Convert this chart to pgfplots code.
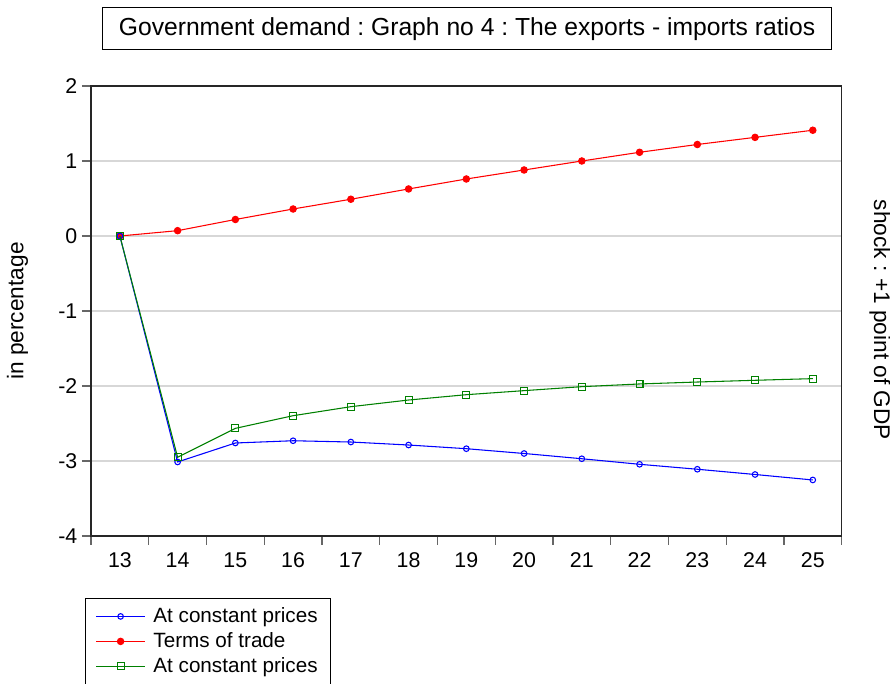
\documentclass[border=0pt]{standalone}
\usepackage{pgfplots}
\pgfplotsset{compat=1.18}
\usepackage{fontspec}
\setmainfont{Liberation Sans}
\frenchspacing
\definecolor{cblue}{RGB}{0,0,255}
\definecolor{cred}{RGB}{255,0,0}
\definecolor{cgreen}{RGB}{0,128,0}
\definecolor{cgrid}{RGB}{215,215,215}
\begin{document}
\begin{tikzpicture}
\path[use as bounding box] (-68.25pt,-111pt) rectangle (599.25pt,402pt);
\begin{axis}[
  at={(0,0)}, anchor=south west,
  scale only axis, width=563pt, height=337.5pt,
  clip mode=individual,
  xmin=12.5, xmax=25.5, ymin=-4, ymax=2,
  xtick={12.5,13.5,14.5,15.5,16.5,17.5,18.5,19.5,20.5,21.5,22.5,23.5,24.5,25.5},
  x tick label as interval,
  xticklabels={13,14,15,16,17,18,19,20,21,22,23,24,25},
  ytick={-4,-3,-2,-1,0,1,2},
  yticklabels={-4,-3,-2,-1,0,1,2},
  tick align=outside, tick pos=left,
  major tick length=6.75pt,
  ymajorgrids, grid style={cgrid, line width=0.9pt},
  axis line style={line width=1.1pt, black!85},
  tick style={line width=1pt, black!60},
  tick label style={font=\fontsize{16}{19}\selectfont},
  xticklabel style={yshift=-2.5pt},
  ylabel={in percentage},
  ylabel style={at={(axis description cs:-0.098,0.5)}, anchor=center, font=\fontsize{17}{20}\selectfont},
  every axis title shift=0pt,
  title={Government demand : Graph no 4 : The exports - imports ratios},
  title style={draw, line width=0.75pt, font=\fontsize{18.5}{22}\selectfont, minimum width=547pt, minimum height=31.5pt, at={(axis description cs:0.501,1.1267)}, anchor=center},
  legend style={at={(axis description cs:-0.0076,-0.138)}, anchor=north west, draw=black, line width=0.75pt, font=\fontsize{15.5}{19}\selectfont, cells={anchor=west}, inner xsep=7.5pt, inner ysep=5pt, row sep=2pt, /tikz/every odd column/.append style={column sep=4pt}},
  legend image code/.code={\draw[mark repeat=2,mark phase=2] plot coordinates {(0cm,0cm) (0.64cm,0cm) (1.28cm,0cm)};},
]
\addplot[cred, line width=0.8pt, mark=*, mark size=2.4pt, mark options={fill=cred}, forget plot] coordinates {
(13,0) (14,0.071) (15,0.22) (16,0.36) (17,0.49) (18,0.627) (19,0.76)
(20,0.88) (21,1.0) (22,1.116) (23,1.22) (24,1.315) (25,1.41)};
\addplot[cblue, line width=0.8pt, mark=o, mark size=2.1pt, mark options={fill=white, line width=0.8pt}] coordinates {
(13,0) (14,-3.013) (15,-2.76) (16,-2.73) (17,-2.747) (18,-2.787) (19,-2.836)
(20,-2.90) (21,-2.97) (22,-3.044) (23,-3.11) (24,-3.18) (25,-3.253)};
\addlegendentry{At constant prices}
\addlegendimage{cred, line width=0.8pt, mark=*, mark size=2.4pt, mark options={fill=cred}}
\addlegendentry{Terms of trade}
\addplot[cgreen, line width=0.8pt, mark=square, mark size=2.6pt, mark options={fill=white, line width=0.8pt}] coordinates {
(13,0) (14,-2.95) (15,-2.565) (16,-2.396) (17,-2.276) (18,-2.187) (19,-2.116)
(20,-2.062) (21,-2.009) (22,-1.973) (23,-1.947) (24,-1.924) (25,-1.902)};
\addlegendentry{At constant prices}
\node[rotate=-90, font=\fontsize{17}{20}\selectfont] at (axis description cs:1.051,0.48) {shock : +1 point of GDP};
\end{axis}
\end{tikzpicture}
\end{document}
